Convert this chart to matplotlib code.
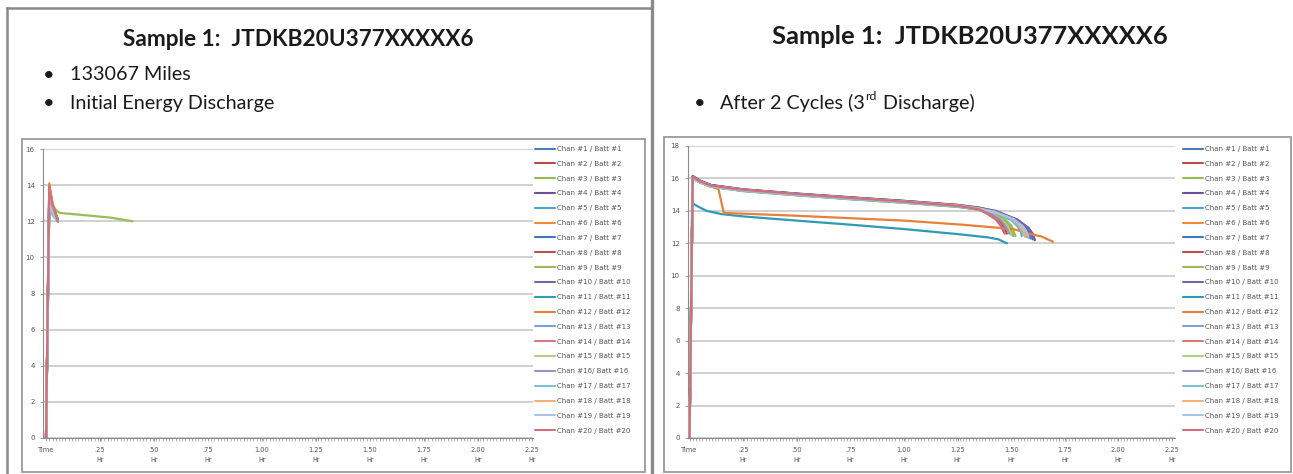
import matplotlib
matplotlib.use('Agg')
import matplotlib.pyplot as plt
from matplotlib.lines import Line2D
from matplotlib.patches import Rectangle
from matplotlib.ticker import MultipleLocator, FixedLocator

# ---------------- data ----------------
channel_labels = [
    "Chan #1 / Batt #1", "Chan #2 / Batt #2", "Chan #3 / Batt #3", "Chan #4 / Batt #4",
    "Chan #5 / Batt #5", "Chan #6 / Batt #6", "Chan #7 / Batt #7", "Chan #8 / Batt #8",
    "Chan #9 / Batt #9", "Chan #10 / Batt #10", "Chan #11 / Batt #11", "Chan #12 / Batt #12",
    "Chan #13 / Batt #13", "Chan #14 / Batt #14", "Chan #15 / Batt #15", "Chan #16/ Batt #16",
    "Chan #17 / Batt #17", "Chan #18 / Batt #18", "Chan #19 / Batt #19", "Chan #20 / Batt #20",
]
channel_colors = [
    "#4A7EBB", "#BE4B48", "#98B954", "#6A51A0", "#46AAC5", "#F08A3A",
    "#3F78C2", "#C0504D", "#9BBB59", "#7762AC", "#2E9BB5", "#E8803A",
    "#7BA3D6", "#D9797A", "#B5CD85", "#9F8EC0", "#7CC3D8", "#F9AE78",
    "#A9C3E6", "#D0707A",
]

x_tick_pos = [0, 0.25, 0.50, 0.75, 1.00, 1.25, 1.50, 1.75, 2.00, 2.25]
x_tick_labels = ["Time", ".25\nHr", ".50\nHr", ".75\nHr", "1.00\nHr", "1.25\nHr",
                 "1.50\nHr", "1.75\nHr", "2.00\nHr", "2.25\nHr"]

# Left chart: initial energy discharge (time in Hr, voltage)
left_t_short = [0, 0.015, 0.03, 0.055]
left_t_long = [0, 0.015, 0.05, 0.065, 0.22, 0.30, 0.40]
left_times = [left_t_short] * 8 + [left_t_long] + [left_t_short] * 11
left_volts = [
    [0, 13.6, 12.7, 12.0],
    [0, 13.3, 12.6, 12.0],
    [0, 13.0, 12.5, 12.05],
    [0, 13.5, 12.8, 12.1],
    [0, 12.9, 12.4, 12.0],
    [0, 14.1, 12.9, 12.0],
    [0, 13.7, 12.9, 12.1],
    [0, 13.2, 12.5, 12.0],
    [0, 13.1, 12.57, 12.46, 12.29, 12.2, 12.0],
    [0, 13.4, 12.7, 12.05],
    [0, 12.8, 12.4, 12.0],
    [0, 14.0, 13.0, 12.05],
    [0, 13.3, 12.6, 12.0],
    [0, 13.1, 12.5, 12.0],
    [0, 12.9, 12.45, 12.05],
    [0, 13.2, 12.6, 12.0],
    [0, 12.8, 12.35, 12.0],
    [0, 13.8, 12.8, 12.0],
    [0, 13.0, 12.5, 12.0],
    [0, 13.9, 12.9, 12.0],
]

# Right chart: after 2 cycles (3rd discharge)
r_body_t = [0, 0.015, 0.05, 0.10, 0.25, 0.50, 0.75, 1.00, 1.25, 1.35]
right_times = [
    r_body_t + [1.42, 1.50, 1.55, 1.575, 1.59],
    r_body_t + [1.40, 1.44, 1.46, 1.47, 1.48],
    r_body_t + [1.40, 1.46, 1.49, 1.50, 1.51],
    r_body_t + [1.42, 1.53, 1.58, 1.60, 1.61],
    r_body_t + [1.42, 1.50, 1.53, 1.545, 1.55],
    r_body_t + [1.42, 1.51, 1.55, 1.565, 1.57],
    r_body_t + [1.42, 1.52, 1.57, 1.59, 1.60],
    r_body_t + [1.39, 1.43, 1.45, 1.46, 1.47],
    r_body_t + [1.40, 1.47, 1.50, 1.51, 1.52],
    r_body_t + [1.43, 1.53, 1.58, 1.60, 1.61],
    [0, 0.012, 0.035, 0.08, 0.15, 0.25, 0.50, 0.75, 1.00, 1.25, 1.39, 1.44, 1.48],
    [0, 0.015, 0.05, 0.10, 0.135, 0.16, 0.25, 0.50, 0.75, 1.00, 1.27, 1.51, 1.58, 1.64, 1.695],
    r_body_t + [1.42, 1.50, 1.55, 1.57, 1.58],
    r_body_t + [1.39, 1.43, 1.45, 1.46, 1.47],
    r_body_t + [1.40, 1.45, 1.48, 1.49, 1.50],
    r_body_t + [1.40, 1.45, 1.47, 1.48, 1.49],
    r_body_t + [1.42, 1.50, 1.535, 1.55, 1.555],
    r_body_t + [1.42, 1.51, 1.545, 1.56, 1.565],
    r_body_t + [1.42, 1.51, 1.555, 1.57, 1.58],
    r_body_t + [1.39, 1.43, 1.45, 1.46, 1.47],
]
right_volts = [
    [0, 16.05, 15.78, 15.52, 15.25, 15.00, 14.76, 14.54, 14.28, 14.10, 13.95, 13.60, 13.15, 12.80, 12.30],
    [0, 16.10, 15.82, 15.56, 15.30, 15.04, 14.80, 14.57, 14.31, 14.10, 13.85, 13.50, 13.15, 12.90, 12.60],
    [0, 16.00, 15.75, 15.50, 15.24, 14.98, 14.74, 14.52, 14.27, 14.08, 13.90, 13.55, 13.10, 12.80, 12.45],
    [0, 16.15, 15.86, 15.60, 15.33, 15.07, 14.84, 14.62, 14.37, 14.20, 14.00, 13.45, 12.95, 12.60, 12.20],
    [0, 16.02, 15.76, 15.50, 15.22, 14.96, 14.72, 14.50, 14.25, 14.08, 13.90, 13.45, 13.05, 12.75, 12.45],
    [0, 16.08, 15.80, 15.54, 15.28, 15.02, 14.79, 14.57, 14.32, 14.14, 13.95, 13.50, 13.05, 12.75, 12.40],
    [0, 16.12, 15.84, 15.58, 15.31, 15.05, 14.82, 14.60, 14.35, 14.18, 13.98, 13.50, 13.00, 12.60, 12.25],
    [0, 16.06, 15.79, 15.53, 15.27, 15.01, 14.77, 14.55, 14.29, 14.08, 13.85, 13.50, 13.15, 12.95, 12.65],
    [0, 16.00, 15.74, 15.49, 15.23, 14.97, 14.73, 14.51, 14.26, 14.07, 13.90, 13.50, 13.10, 12.80, 12.45],
    [0, 16.14, 15.85, 15.59, 15.32, 15.06, 14.83, 14.61, 14.36, 14.19, 14.00, 13.45, 12.95, 12.55, 12.20],
    [0, 14.50, 14.30, 14.00, 13.80, 13.66, 13.40, 13.15, 12.88, 12.57, 12.37, 12.25, 12.00],
    [0, 16.05, 15.75, 15.50, 15.35, 13.87, 13.83, 13.70, 13.55, 13.40, 13.15, 12.88, 12.60, 12.43, 12.10],
    [0, 16.04, 15.77, 15.51, 15.25, 14.99, 14.75, 14.53, 14.28, 14.10, 13.95, 13.55, 13.10, 12.75, 12.35],
    [0, 16.08, 15.81, 15.55, 15.29, 15.03, 14.79, 14.56, 14.30, 14.09, 13.80, 13.45, 13.10, 12.90, 12.60],
    [0, 16.01, 15.75, 15.50, 15.24, 14.98, 14.74, 14.52, 14.27, 14.08, 13.90, 13.50, 13.10, 12.85, 12.50],
    [0, 16.07, 15.80, 15.54, 15.28, 15.02, 14.78, 14.56, 14.30, 14.10, 13.85, 13.45, 13.10, 12.90, 12.60],
    [0, 16.03, 15.77, 15.51, 15.25, 14.99, 14.75, 14.53, 14.28, 14.09, 13.90, 13.50, 13.05, 12.75, 12.50],
    [0, 16.09, 15.81, 15.55, 15.29, 15.03, 14.80, 14.58, 14.33, 14.15, 13.95, 13.50, 13.05, 12.75, 12.40],
    [0, 16.06, 15.79, 15.53, 15.27, 15.01, 14.77, 14.55, 14.30, 14.12, 13.95, 13.50, 13.05, 12.75, 12.40],
    [0, 16.10, 15.82, 15.56, 15.30, 15.04, 14.80, 14.57, 14.31, 14.10, 13.85, 13.50, 13.15, 12.90, 12.60],
]

titles = ["Sample 1:  JTDKB20U377XXXXX6", "Sample 1:  JTDKB20U377XXXXX6"]
left_bullets = ["133067 Miles", "Initial Energy Discharge"]

# ---------------- figure ----------------
W, H = 1293, 474
fig = plt.figure(figsize=(W / 100, H / 100), dpi=100)
fig.patch.set_facecolor('white')


def fx(x):
    return x / W


def fy(y):
    return 1 - y / H


renderer = fig.canvas.get_renderer()
TXT = '#1a1a1a'
FONT = 'Lato'


def fit_text(x, y, s, target_w, weight='normal', ha='left', base=20):
    t = fig.text(fx(x), fy(y), s, fontsize=base, family=FONT, weight=weight,
                 ha=ha, va='center', color=TXT)
    w = t.get_window_extent(renderer).width
    t.set_fontsize(base * target_w / w)
    return t


# panel frames
frame_c = '#8a8a8a'
fig.add_artist(Line2D([fx(7), fx(7)], [fy(8), fy(474)], transform=fig.transFigure, color=frame_c, lw=1.8))
fig.add_artist(Line2D([fx(7), fx(651)], [fy(8), fy(8)], transform=fig.transFigure, color=frame_c, lw=1.8))
fig.add_artist(Line2D([fx(651.5), fx(651.5)], [fy(0), fy(474)], transform=fig.transFigure, color=frame_c, lw=2.4))

# chart boxes
box_c = '#9a9a9a'
for (x0, y0, x1, y1) in [(22, 139, 645, 472), (664, 137, 1291, 472)]:
    fig.add_artist(Rectangle((fx(x0), fy(y1)), fx(x1) - fx(x0), fy(y0) - fy(y1),
                             transform=fig.transFigure, fill=False, ec=box_c, lw=1.3))

# titles & bullets
fit_text(298, 39, titles[0], 350, weight='bold', ha='center')
fit_text(970, 37, titles[1], 395, weight='bold', ha='center')

b2 = fit_text(70, 104, left_bullets[1], 205)
bsize = b2.get_fontsize()
fig.text(fx(70), fy(75), left_bullets[0], fontsize=bsize, family=FONT, ha='left', va='center', color=TXT)
fig.text(fx(49), fy(75), "\u2022", fontsize=bsize, family=FONT, ha='center', va='center', color=TXT)
fig.text(fx(49), fy(104), "\u2022", fontsize=bsize, family=FONT, ha='center', va='center', color=TXT)

# right bullet with superscript
fig.text(fx(700), fy(103), "\u2022", fontsize=bsize, family=FONT, ha='center', va='center', color=TXT)
p1 = fig.text(fx(720), fy(103), "After 2 Cycles (3", fontsize=bsize, family=FONT, ha='left', va='center', color=TXT)
w1 = p1.get_window_extent(renderer).width
p2 = fig.text(fx(720 + w1 + 0.5), fy(97), "rd", fontsize=bsize * 0.62, family=FONT, ha='left', va='center', color=TXT)
w2 = p2.get_window_extent(renderer).width
fig.text(fx(720 + w1 + w2 + 1.5), fy(103), " Discharge)", fontsize=bsize, family=FONT, ha='left', va='center', color=TXT)


def make_axes(left, right, top, bottom, xlim, ymax, times, volts, leg_x, leg_y):
    ax = fig.add_axes([fx(left), fy(bottom), (right - left) / W, (bottom - top) / H])
    ax.set_facecolor('none')
    handles = []
    for i in range(20):
        ln, = ax.plot(times[i], volts[i], color=channel_colors[i], lw=1.6,
                      solid_joinstyle='round', solid_capstyle='round', zorder=3)
        handles.append(ln)
    ax.set_xlim(*xlim)
    ax.set_ylim(0, ymax)
    ax.yaxis.set_major_locator(MultipleLocator(2))
    ax.grid(axis='y', color='#c4c4c4', lw=1.1, zorder=0)
    ax.set_axisbelow(True)
    for s in ['top', 'right']:
        ax.spines[s].set_visible(False)
    for s in ['left', 'bottom']:
        ax.spines[s].set_color('#8c8c8c')
        ax.spines[s].set_linewidth(0.8)
    ax.xaxis.set_major_locator(FixedLocator(x_tick_pos))
    ax.set_xticklabels(x_tick_labels)
    ax.xaxis.set_minor_locator(MultipleLocator(0.015))
    ax.tick_params(axis='x', which='major', length=2.5, width=0.6, color='#8c8c8c',
                   labelsize=4.8, labelcolor='#555555', pad=4)
    ax.tick_params(axis='x', which='minor', length=2.2, width=0.5, color='#9a9a9a')
    ax.tick_params(axis='y', which='major', length=2.5, width=0.6, color='#8c8c8c',
                   labelsize=5.0, labelcolor='#555555', pad=3.5)
    for lbl in ax.get_xticklabels():
        lbl.set_linespacing(1.7)
    leg = ax.legend(handles, channel_labels, loc='upper left',
                    bbox_to_anchor=(fx(leg_x), fy(leg_y)), bbox_transform=fig.transFigure,
                    frameon=False, fontsize=5.0, handlelength=2.9, handletextpad=0.3,
                    labelspacing=1.27, borderpad=0, borderaxespad=0)
    for t in leg.get_texts():
        t.set_color('#555555')
    for h in leg.legend_handles:
        h.set_linewidth(1.5)
    return ax


make_axes(43, 533, 149, 438, (-0.014, 2.255), 16, left_times, left_volts, 535, 146)
make_axes(688, 1175, 146, 438, (-0.007, 2.264), 18, right_times, right_volts, 1183, 146)

fig.savefig('out.png', dpi=100, facecolor='white')
